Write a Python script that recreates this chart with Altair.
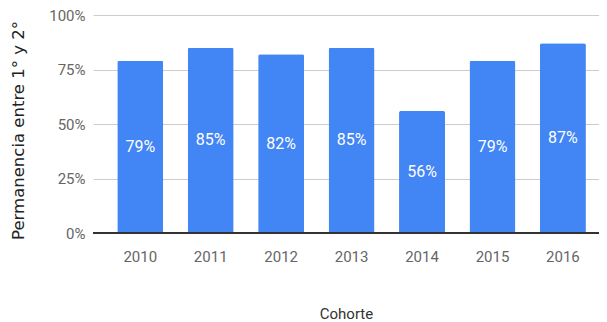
import altair as alt
import pandas as pd

cohortes = ["2010", "2011", "2012", "2013", "2014", "2015", "2016"]
valores = [0.79, 0.85, 0.82, 0.85, 0.56, 0.79, 0.87]

df = pd.DataFrame({"Cohorte": cohortes, "Valor": valores})
df["mid"] = df["Valor"] / 2

x = alt.X("Cohorte:N", title="Cohorte",
          scale=alt.Scale(paddingInner=0.347, paddingOuter=0.265, align=0.65),
          axis=alt.Axis(labelAngle=0, ticks=False, domain=False, grid=False,
                        labelFont="Roboto", labelFontSize=15, labelColor="#666666",
                        labelPadding=16, titleFont="Roboto", titleFontSize=15,
                        titleFontWeight="normal", titleColor="#333333", titlePadding=42))

bars = alt.Chart(df).mark_bar(color="#4285F4", cornerRadiusTopLeft=2, cornerRadiusTopRight=2).encode(
    x=x,
    y=alt.Y("Valor:Q", title="Permanencia entre 1° y 2°",
            scale=alt.Scale(domain=[0, 1]),
            axis=alt.Axis(format=".0%", values=[0, 0.25, 0.5, 0.75, 1], ticks=False, domain=False,
                          gridColor="#cccccc", labelFont="Roboto", labelFontSize=15,
                          labelColor="#666666", labelPadding=8,
                          titleFont="DejaVu Sans", titleFontSize=16.5, titleFontWeight="normal",
                          titleColor="#222222", titlePadding=22, titleY=115)),
)

labels = alt.Chart(df).mark_text(color="white", font="Roboto", fontSize=16, baseline="middle").encode(
    x=alt.X("Cohorte:N"),
    y=alt.Y("mid:Q"),
    text=alt.Text("Valor:Q", format=".0%"),
)

base = alt.Chart(df).mark_rule(color="#333333", strokeWidth=1.5).encode(y=alt.datum(0))

chart = alt.layer(bars, base, labels).properties(
    width=506, height=218,
    autosize=alt.AutoSizeParams(type="none"),
    padding={"left": 85, "top": 7, "right": 0, "bottom": 94},
).configure_view(stroke=None)

chart.save("out.html", embed_options={"renderer": "svg", "actions": False})
